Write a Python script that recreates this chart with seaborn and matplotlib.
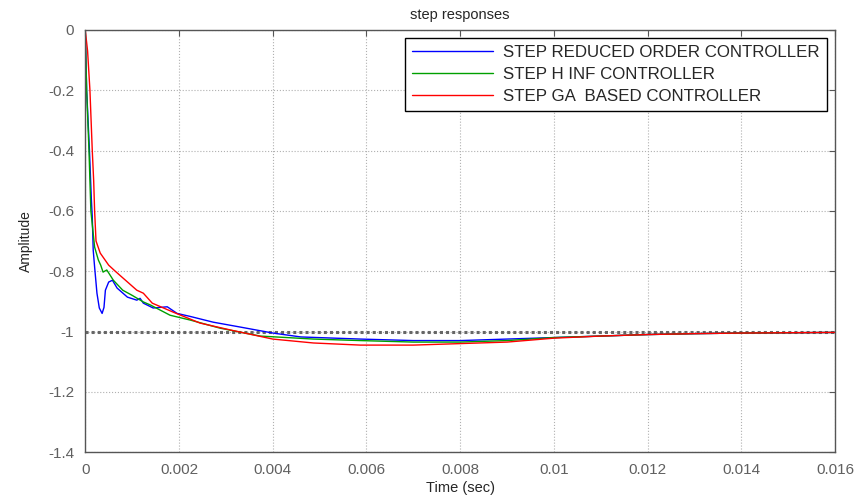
import numpy as np
import pandas as pd
import matplotlib
matplotlib.use("Agg")
import matplotlib.pyplot as plt
import seaborn as sns
from matplotlib.ticker import FormatStrFormatter

# ------------------------------------------------------------------
# Data
# ------------------------------------------------------------------
t_reduced = [0, 0.00003, 0.00009, 0.00013, 0.00015, 0.00017, 0.0002, 0.00025,
             0.0003, 0.00036, 0.0004, 0.00043, 0.0005, 0.00058, 0.00068, 0.0009,
             0.0011, 0.00117, 0.00124, 0.00145, 0.00175, 0.00196, 0.00224,
             0.00273, 0.0033, 0.004, 0.0046, 0.00587, 0.007, 0.008, 0.009,
             0.01, 0.011, 0.012, 0.013, 0.014, 0.015, 0.016]
y_reduced = [0, -0.2, -0.4, -0.56, -0.62, -0.73, -0.786, -0.873,
             -0.922, -0.94, -0.92, -0.863, -0.836, -0.83, -0.856, -0.886,
             -0.896, -0.89, -0.906, -0.922, -0.918, -0.94, -0.95,
             -0.969, -0.985, -1.005, -1.018, -1.025, -1.03, -1.03, -1.025,
             -1.02, -1.015, -1.01, -1.007, -1.005, -1.004, -1.003]

t_hinf = [0, 0.00003, 0.00008, 0.00012, 0.00017, 0.0002, 0.00028, 0.00033,
          0.00038, 0.00046, 0.0006, 0.0008, 0.001, 0.00124, 0.00139, 0.00181,
          0.00224, 0.00288, 0.00373, 0.00487, 0.00587, 0.007, 0.008, 0.009,
          0.01, 0.011, 0.012, 0.013, 0.014, 0.015, 0.016]
y_hinf = [0, -0.2, -0.4, -0.6, -0.675, -0.72, -0.763, -0.78,
          -0.803, -0.796, -0.83, -0.863, -0.88, -0.902, -0.912, -0.946,
          -0.962, -0.989, -1.015, -1.025, -1.03, -1.035, -1.035, -1.03,
          -1.02, -1.015, -1.01, -1.007, -1.005, -1.004, -1.003]

t_ga = [0, 0.00005, 0.0001, 0.00015, 0.00018, 0.0002, 0.00023, 0.00032,
        0.0005, 0.00064, 0.0011, 0.00124, 0.00143, 0.00188, 0.00245, 0.0031,
        0.004, 0.00487, 0.00587, 0.007, 0.008, 0.009, 0.01, 0.011, 0.012,
        0.013, 0.014, 0.015, 0.016]
y_ga = [0, -0.07, -0.2, -0.4, -0.5, -0.6, -0.7, -0.74,
        -0.78, -0.8, -0.863, -0.873, -0.906, -0.936, -0.972, -0.995,
        -1.025, -1.038, -1.045, -1.045, -1.04, -1.035, -1.022, -1.015, -1.01,
        -1.007, -1.005, -1.004, -1.003]

labels = ["STEP REDUCED ORDER CONTROLLER", "STEP H INF CONTROLLER",
          "STEP GA  BASED CONTROLLER"]
colors = ["#0000ff", "#00a000", "#ff0000"]

x_ticks = [0, 0.002, 0.004, 0.006, 0.008, 0.01, 0.012, 0.014, 0.016]
y_ticks = [0, -0.2, -0.4, -0.6, -0.8, -1, -1.2, -1.4]

# ------------------------------------------------------------------
# Plot
# ------------------------------------------------------------------
sns.set_style("white")
plt.rcParams['font.family'] = ['Liberation Sans', 'DejaVu Sans']
plt.rcParams['axes.unicode_minus'] = False

fig = plt.figure(figsize=(8.61, 4.98), dpi=100)
ax = fig.add_axes([0.099, 0.092, 0.871, 0.848])

# steady-state reference line
ax.axhline(-1, color="#666666", lw=2.2, ls=(0, (1, 1)), zorder=1)

for t, y, lab, c in zip([t_reduced, t_hinf, t_ga], [y_reduced, y_hinf, y_ga],
                        labels, colors):
    sns.lineplot(x=t, y=y, ax=ax, color=c, lw=1, label=lab,
                 sort=False, estimator=None)

ax.set_xlim(0, 0.016)
ax.set_ylim(-1.4, 0)
ax.set_xticks(x_ticks)
ax.set_yticks(y_ticks)
ax.xaxis.set_major_formatter(FormatStrFormatter('%g'))
ax.yaxis.set_major_formatter(FormatStrFormatter('%g'))

ax.grid(True, color="#b0b0b0", ls=":", lw=0.8)
for s in ax.spines.values():
    s.set_color("#555555")
    s.set_linewidth(1)
ax.tick_params(direction="in", length=4, top=True, right=True,
               colors="#555555", labelcolor="#606060", labelsize=11, pad=8)

ax.set_title("step responses", fontsize=10.5, pad=8)
ax.set_xlabel("Time (sec)", fontsize=10.5, labelpad=3)
ax.set_ylabel("Amplitude", fontsize=10, labelpad=11)

leg = ax.legend(loc="upper right", bbox_to_anchor=(0.989, 0.981),
                borderaxespad=0, fancybox=False, framealpha=1,
                edgecolor="black", fontsize=12.2, handlelength=4.8,
                handletextpad=0.6, labelspacing=0.4, borderpad=0.42)
leg.get_frame().set_linewidth(1)

fig.savefig("out.png", dpi=100)
